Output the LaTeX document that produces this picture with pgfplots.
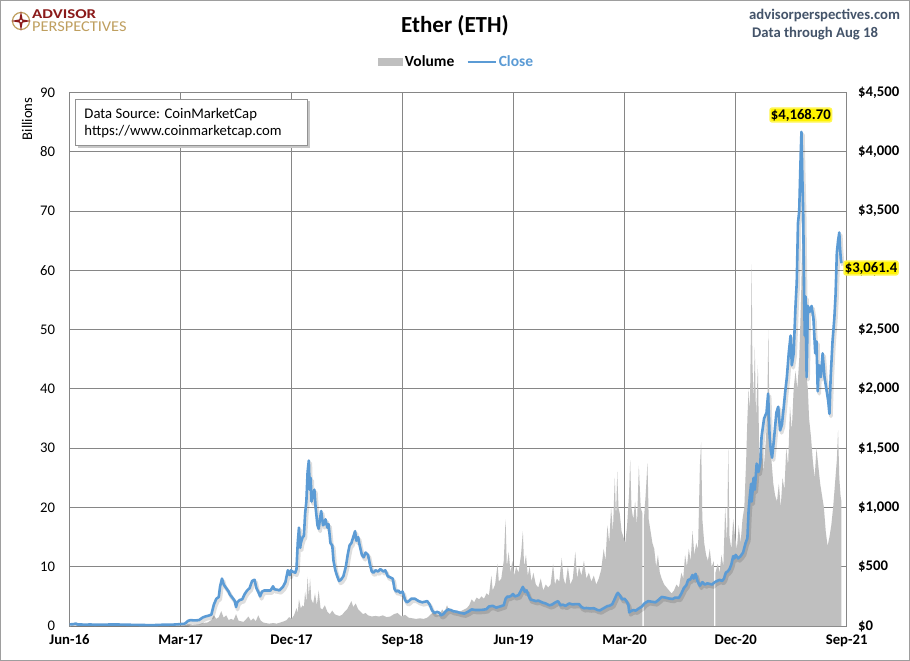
\documentclass[border=0pt]{standalone}
\usepackage{pgfplots}
\pgfplotsset{compat=1.18}
\usepackage{pgfplotstable}
\usepackage{fontspec}
\setmainfont{Carlito}
\definecolor{volgray}{HTML}{BFBFBF}
\definecolor{linecol}{HTML}{5B9BD5}
\definecolor{gridcol}{HTML}{868686}
\definecolor{apblue}{HTML}{44546A}
\definecolor{apred}{HTML}{8B1A1A}
\definecolor{apgold}{HTML}{BF9F5F}
\newcommand\tf{\fontsize{14.7bp}{17bp}\selectfont}

\pgfplotstableread{
m p
0.0 14
0.3 15
0.45 19
0.55 20.5
0.6 14
0.7 12.5
1.0 12.5
1.3 11.5
1.7 13
2.0 11
2.5 11.2
3.0 12.2
3.5 12.7
4.0 12.5
4.5 11.2
5.0 10.2
5.5 9.2
6.0 8.3
6.5 7.6
7.0 8.2
7.5 10.5
8.0 10.8
8.5 12.5
9.0 16
9.3 19
9.45 28
9.6 43
9.8 50
10.0 48
10.3 48
10.5 50
10.8 72
11.0 80
11.3 88
11.5 97
11.7 180
11.9 230
12.1 245
12.2 330
12.36 400
12.5 350
12.7 320
12.9 290
13.0 265
13.2 240
13.4 210
13.5 160
13.6 200
13.8 220
14.0 225
14.2 270
14.4 300
14.6 320
14.8 380
15.0 390
15.15 320
15.3 290
15.45 250
15.6 290
15.8 300
16.0 300
16.3 300
16.5 335
16.6 310
16.9 305
17.0 300
17.3 330
17.5 370
17.7 470
17.85 430
17.95 470
18.05 460
18.3 450
18.4 480
18.5 700
18.6 830
18.7 660
18.75 700
18.9 750
19.0 760
19.1 950
19.2 1050
19.3 1300
19.4 1396
19.47 1150
19.55 1250
19.62 1050
19.7 1100
19.85 1150
19.95 1000
20.1 850
20.2 820
20.3 900
20.4 970
20.55 850
20.65 860
20.75 900
20.9 830
21.0 860
21.15 700
21.3 680
21.4 550
21.55 470
21.7 420
21.85 380
22.0 390
22.2 420
22.4 500
22.55 600
22.7 680
22.85 700
23.0 750
23.15 800
23.25 720
23.4 750
23.5 690
23.7 600
23.85 580
24.0 620
24.2 600
24.35 520
24.5 460
24.65 450
24.8 470
25.0 460
25.2 480
25.45 460
25.6 470
25.8 420
26.0 410
26.2 400
26.35 310
26.5 290
26.65 300
26.8 280
27.0 290
27.2 220
27.35 200
27.5 210
27.7 230
28.0 230
28.3 210
28.6 200
29.0 210
29.2 180
29.4 130
29.6 110
29.8 120
30.0 110
30.1 90
30.3 100
30.5 125
30.7 140
30.9 135
31.1 125
31.4 120
31.7 110
32.0 105
32.3 120
32.6 140
32.9 135
33.2 135
33.5 137
33.8 142
34.0 165
34.3 170
34.6 155
34.9 165
35.2 175
35.35 230
35.5 250
35.6 245
35.8 255
35.95 270
36.1 250
36.4 260
36.6 300
36.75 330
36.9 290
37.05 300
37.2 260
37.35 225
37.5 220
37.8 210
38.0 215
38.3 200
38.6 190
38.9 175
39.1 180
39.4 200
39.6 210
39.8 175
40.0 180
40.2 170
40.5 190
40.8 182
41.0 185
41.3 185
41.5 160
41.7 150
41.9 152
42.2 148
42.5 150
42.8 135
43.0 132
43.3 150
43.6 168
43.8 172
44.0 185
44.2 230
44.35 265
44.45 280
44.6 260
44.8 225
45.0 230
45.2 200
45.3 180
45.37 115
45.5 125
45.7 135
45.9 130
46.1 145
46.4 165
46.6 190
46.9 210
47.2 205
47.5 200
47.8 225
48.0 245
48.3 240
48.6 232
48.9 228
49.1 240
49.4 238
49.6 275
49.8 320
50.0 345
50.15 390
50.3 390
50.5 430
50.6 400
50.75 440
50.9 380
51.1 340
51.3 370
51.5 350
51.7 360
51.9 355
52.1 350
52.3 370
52.5 380
52.7 390
52.9 380
53.05 400
53.2 450
53.35 460
53.5 480
53.65 520
53.8 590
53.9 570
54.0 600
54.2 570
54.4 590
54.6 620
54.8 700
54.95 740
55.05 980
55.15 1100
55.25 1200
55.3 1050
55.45 1250
55.55 1150
55.7 1370
55.85 1300
56.0 1380
56.1 1600
56.3 1750
56.5 1800
56.63 1960
56.75 1600
56.85 1480
56.95 1420
57.1 1570
57.3 1800
57.45 1850
57.6 1650
57.75 1700
57.9 1850
58.0 1960
58.15 2100
58.3 2300
58.45 2450
58.55 2200
58.7 2300
58.85 2700
58.95 2900
59.05 3400
59.15 3500
59.25 3900
59.33 4168.7
59.4 3800
59.47 3500
59.55 2800
59.6 2450
59.67 2780
59.75 2100
59.85 2700
60.0 2650
60.15 2700
60.3 2600
60.45 2300
60.55 2400
60.65 1980
60.75 2200
60.9 2100
61.05 2300
61.2 2100
61.35 2000
61.5 1900
61.6 1790
61.7 2100
61.85 2400
62.0 2600
62.1 2800
62.2 3150
62.3 3250
62.4 3320
62.45 3200
62.52 3100
62.57 3061.4
}\closedata

\pgfplotstableread{
m v
0 0.02
3 0.02
6 0.02
8.5 0.03
9.3 0.1
9.6 0.3
10.0 0.2
10.5 0.3
10.8 0.5
11.2 0.6
11.5 1.0
11.7 1.8
11.9 1.2
12.1 1.5
12.3 2.5
12.5 1.4
12.7 1.8
12.9 1.0
13.1 1.2
13.3 1.0
13.5 2.0
13.7 0.9
13.9 0.8
14.1 0.7
14.3 1.1
14.5 1.6
14.7 0.9
14.9 1.3
15.1 0.8
15.3 1.8
15.5 0.9
15.7 0.6
15.9 0.5
16.2 0.4
16.5 0.5
16.8 0.4
17.1 0.6
17.4 0.8
17.6 1.0
17.8 1.5
18.0 1.2
18.2 1.8
18.4 3.0
18.5 2.2
18.6 4.5
18.75 3.0
18.9 3.5
19.0 3.2
19.1 5.8
19.2 4.0
19.3 8.3
19.4 5.0
19.5 8.0
19.6 4.5
19.75 3.8
19.9 5.5
20.05 3.5
20.2 6.0
20.35 3.0
20.5 2.8
20.7 3.5
20.9 2.4
21.1 2.0
21.3 2.6
21.5 2.0
21.7 1.8
21.9 1.7
22.1 1.9
22.3 2.4
22.5 2.8
22.7 3.6
22.85 4.2
23.0 3.2
23.2 3.8
23.4 2.8
23.6 2.4
23.8 2.0
24.0 2.2
24.2 1.8
24.5 1.6
24.8 1.7
25.1 1.6
25.4 1.8
25.7 1.5
26.0 1.6
26.3 2.0
26.6 2.2
26.9 1.6
27.2 1.9
27.5 1.4
27.8 1.3
28.1 1.2
28.4 1.3
28.7 1.2
29.0 1.4
29.3 2.0
29.5 2.3
29.7 2.0
30.0 1.8
30.2 2.8
30.4 2.3
30.6 3.5
30.8 2.5
31.0 2.8
31.2 2.2
31.4 2.5
31.6 2.4
31.8 2.6
32.0 2.8
32.2 3.0
32.4 3.5
32.6 4.5
32.8 4.0
33.0 4.8
33.2 4.5
33.4 5.0
33.6 4.6
33.8 5.5
34.0 5.2
34.2 8.5
34.3 6.0
34.5 7.0
34.7 10.5
34.8 7.5
35.0 8.0
35.2 11.0
35.35 18.0
35.45 10.0
35.6 12.5
35.75 9.0
35.9 11.0
36.05 8.5
36.2 10.0
36.4 9.0
36.6 12.0
36.75 16.0
36.85 10.0
37.0 12.0
37.15 8.5
37.3 10.0
37.45 7.5
37.6 9.0
37.8 7.0
38.0 6.5
38.2 8.0
38.4 6.0
38.6 7.0
38.8 6.5
39.0 7.0
39.2 10.5
39.35 7.0
39.5 8.0
39.7 7.5
39.9 11.5
40.05 8.0
40.2 7.0
40.4 10.0
40.6 7.0
40.8 8.0
41.0 12.5
41.15 8.0
41.3 10.0
41.5 8.5
41.7 11.0
41.9 8.0
42.1 9.0
42.3 7.5
42.5 8.5
42.7 7.0
42.9 8.0
43.1 9.5
43.3 13.0
43.45 11.0
43.6 17.0
43.75 14.0
43.9 20.0
44.05 16.0
44.2 25.0
44.3 18.0
44.4 26.0
44.5 20.0
44.6 19.0
44.75 16.0
44.9 15.0
45.05 14.0
45.2 17.0
45.35 22.0
45.45 28.0
45.55 20.0
45.7 18.0
45.85 21.0
46.0 17.0
46.15 27.0
46.3 20.0
46.44 19.0
46.44 0
46.56 0
46.56 18.0
46.7 22.0
46.85 27.5
46.95 18.0
47.1 16.0
47.25 14.0
47.4 13.0
47.55 10.0
47.7 12.0
47.85 9.0
48.0 8.0
48.2 7.0
48.4 6.5
48.6 6.0
48.8 5.5
49.0 6.0
49.2 7.0
49.4 6.5
49.6 9.0
49.75 8.0
49.9 12.0
50.05 10.0
50.2 13.0
50.35 11.0
50.5 16.0
50.65 12.0
50.8 14.0
50.95 13.0
51.1 27.0
51.2 31.0
51.3 18.0
51.45 14.0
51.6 12.0
51.75 11.0
51.9 13.0
52.05 10.0
52.24 11.0
52.24 0
52.36 0
52.36 9.0
52.55 10.5
52.7 9.0
52.85 12.0
53.0 10.0
53.15 20.0
53.3 14.0
53.4 30.0
53.5 15.0
53.65 13.0
53.8 18.0
53.95 15.0
54.1 13.0
54.25 17.0
54.4 14.0
54.55 18.0
54.7 20.0
54.85 28.0
54.95 35.0
55.05 40.0
55.15 36.0
55.25 52.0
55.3 61.0
55.35 45.0
55.45 38.0
55.55 47.0
55.65 35.0
55.8 44.0
55.9 30.0
56.0 28.0
56.1 32.0
56.25 26.0
56.4 30.0
56.55 35.0
56.65 50.0
56.75 32.0
56.9 28.0
57.05 24.0
57.2 22.0
57.35 21.0
57.5 24.0
57.65 20.0
57.8 25.0
57.95 23.0
58.1 30.0
58.25 27.0
58.4 37.0
58.55 33.0
58.7 40.0
58.85 43.0
59.0 40.0
59.15 45.0
59.3 55.0
59.45 72.0
59.55 60.0
59.65 48.0
59.75 42.0
59.85 40.0
59.95 35.0
60.1 32.0
60.25 28.0
60.4 25.0
60.55 30.0
60.7 27.0
60.85 24.0
61.0 22.0
61.15 20.0
61.3 16.0
61.45 13.5
61.6 15.0
61.75 17.0
61.9 20.0
62.05 24.0
62.2 28.0
62.3 33.0
62.4 25.0
62.5 22.0
62.57 21.0
}\voldata

\begin{document}
\begin{tikzpicture}[x=1bp,y=1bp]
\useasboundingbox (0,0) rectangle (910,-661);
\fill[white] (0,0) rectangle (910,-661);
\draw[gridcol!80, line width=1bp] (0.5,-0.5) rectangle (909.5,-660.5);

\begin{axis}[
  at={(69.5bp,-626bp)}, anchor=south west,
  scale only axis, width=777.2bp, height=533.4bp,
  xmin=0, xmax=63, ymin=0, ymax=90,
  xtick={0,9,...,63},
  xticklabels={Jun-16,Mar-17,Dec-17,Sep-18,Jun-19,Mar-20,Dec-20,Sep-21},
  ytick={0,10,...,90},
  grid=major,
  major grid style={gridcol, line width=0.9bp},
  axis line style={gridcol, line width=0.9bp},
  major tick length=0pt,
  /pgf/number format/assume math mode=true,
  xticklabel style={font=\tf\bfseries, yshift=-5bp},
  yticklabel style={font=\tf, xshift=-11bp},
  legend style={at={(0.498,1.0574)}, anchor=center, draw=none, fill=none,
    font=\fontsize{15.5bp}{18bp}\selectfont\bfseries, legend columns=2,
    nodes={inner sep=2bp},
    /tikz/every even column/.append style={column sep=10bp}},
  legend cell align=left,
]
\addplot[fill=volgray, draw=none,
  legend image code/.code={\fill[volgray] (0bp,-3.7bp) rectangle (25bp,3.7bp);}]
  table[x=m, y=v] {\voldata} \closedcycle;
\addlegendentry{Volume}
\addlegendimage{legend image code/.code={\draw[linecol, line width=2.5bp] (0bp,0bp) -- (28bp,0bp);}}
\addlegendentry{\textcolor{linecol}{Close}}
\end{axis}

\begin{axis}[
  at={(69.5bp,-626bp)}, anchor=south west,
  scale only axis, width=777.2bp, height=533.4bp,
  xmin=0, xmax=63, ymin=0, ymax=4500,
  axis y line*=right, axis x line=none,
  ytick={0,500,...,4500},
  yticklabels={{\$0},{\$500},{\$1,000},{\$1,500},{\$2,000},{\$2,500},{\$3,000},{\$3,500},{\$4,000},{\$4,500}},
  yticklabel style={font=\tf\bfseries, xshift=8bp},
  major tick length=0pt,
  axis line style={gridcol, line width=0.9bp},
]
\addplot[black, opacity=0.13, line width=3.6bp, line join=round, xshift=1.5bp, yshift=-2.5bp] table[x=m, y=p] {\closedata};
\addplot[linecol, line width=2.6bp, line join=round] table[x=m, y=p] {\closedata};
\end{axis}

% annotations
\node[fill=yellow, draw=yellow!70, line width=1.5bp, rounded corners=2bp, inner sep=0.8bp, font=\tf\bfseries] at (800.8,-115) {\$4,168.70};
\node[fill=yellow, draw=yellow!70, line width=1.5bp, rounded corners=2bp, inner sep=0.8bp, font=\tf\bfseries] at (871,-268) {\$3,061.4};

% data source box
\fill[black!22] (77.5,-101.5) rectangle (309.5,-148);
\draw[gridcol!90, fill=white, line width=0.8bp] (75,-99) rectangle (307,-145);
\node[anchor=base west, font=\tf, inner sep=0] at (84.3,-118.3) {Data Source: CoinMarketCap};
\node[anchor=base west, font=\tf, inner sep=0] at (84.3,-135.7) {https://www.coinmarketcap.com};

% y label
\node[rotate=90, font=\tf, inner sep=0] at (27,-119) {Billions};

% title and header
\node[anchor=base, font=\fontsize{23bp}{26bp}\selectfont\bfseries, inner sep=0] at (455,-32.3) {Ether (ETH)};
\node[anchor=base west, font=\tf\bfseries, text=apblue, inner sep=0] at (749,-19.5) {advisorperspectives.com};
\node[anchor=base west, font=\tf\bfseries, text=apblue, inner sep=0] at (752,-37.5) {Data through Aug 18};

% logo
\draw[apgold, line width=1.2bp] (21,-21) circle (8.5);
\fill[apred] (21,-11) -- (22.6,-19.4) -- (31,-21) -- (22.6,-22.6) -- (21,-31) -- (19.4,-22.6) -- (11,-21) -- (19.4,-19.4) -- cycle;
\fill[white] (21,-21) circle (1.3);
\node[anchor=base west, font=\fontsize{13.5bp}{15bp}\selectfont\bfseries, text=apred, inner sep=0, xscale=1.25, transform shape] at (32,-18.6) {ADVISOR};
\node[anchor=base west, font=\fontsize{15bp}{17bp}\selectfont, text=apgold, inner sep=0, xscale=1.09, transform shape] at (32,-31.2) {PERSPECTIVES};
\end{tikzpicture}
\end{document}
